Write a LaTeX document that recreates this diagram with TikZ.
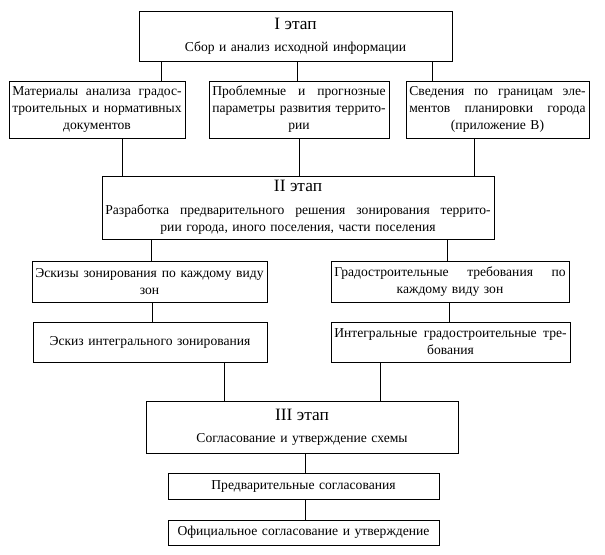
\documentclass[tikz,border=0pt]{standalone}
\usepackage{fontspec}
\setmainfont{Liberation Serif}
\tikzset{
  box/.style={draw, line width=0.6pt, inner xsep=2.5pt, inner ysep=0pt, align=center,
    font=\fontsize{10.2}{12.8}\selectfont},
  conn/.style={draw, line width=0.6pt},
}
\newcommand{\jl}[1]{\leavevmode\hbox to\linewidth{#1}}
\newcommand{\gap}{\hspace{0pt plus 1fill}}
\newcommand{\ttl}[1]{{\fontsize{13}{15}\selectfont #1}}
\begin{document}
\begin{tikzpicture}[x=0.75pt,y=-0.75pt]
\useasboundingbox (0,0) rectangle (605,555);
% stage I
\node[box, text width=229.75pt, minimum height=37.5pt] (I) at (295.5,36)
  {\ttl{I этап}\\[4pt] Сбор и анализ исходной информации};
\node[box, text width=127pt, minimum height=42.75pt] (A) at (97,109.5)
  {\jl{Материалы\gap{} анализа\gap{} градос-}\\ \jl{троительных\gap{} и\gap{} нормативных}\\ документов};
\node[box, text width=130pt, minimum height=42.75pt] (B) at (299,109.5)
  {\jl{Проблемные\gap{} и\gap{} прогнозные}\\ \jl{параметры\gap{} развития\gap{} террито-}\\ рии};
\node[box, text width=132.25pt, minimum height=42.75pt] (C) at (497.5,109.5)
  {\jl{Сведения\gap{} по\gap{} границам\gap{} эле-}\\ \jl{ментов\gap{} планировки\gap{} города}\\ (приложение В)};
% stage II
\node[box, text width=289pt, minimum height=47.25pt] (II) at (298,207.5)
  {\ttl{II этап}\\[4pt] \jl{Разработка\gap{} предварительного\gap{} решения\gap{} зонирования\gap{} террито-}\\ рии города, иного поселения, части поселения};
\node[box, text width=171.25pt, minimum height=30.75pt] (D) at (149.5,281.5)
  {\jl{Эскизы\gap{} зонирования\gap{} по\gap{} каждому\gap{} виду}\\ зон};
\node[box, text width=173.5pt, minimum height=30.75pt] (F) at (450,281.5)
  {\jl{Градостроительные\gap{} требования\gap{} по}\\ каждому виду зон};
\node[box, text width=170.5pt, minimum height=30pt] (E) at (150,342)
  {Эскиз интегрального зонирования};
\node[box, text width=174.25pt, minimum height=30pt] (G) at (450.5,342)
  {\jl{Интегральные\gap{} градостроительные\gap{} тре-}\\ бования};
% stage III
\node[box, text width=229pt, minimum height=39pt] (III) at (302,427)
  {\ttl{III этап}\\[4pt] Согласование и утверждение схемы};
\node[box, text width=198.25pt, minimum height=19.5pt] (P) at (303.5,486)
  {Предварительные согласования};
\node[box, text width=198.25pt, minimum height=18.75pt] (O) at (303.5,532.5)
  {Официальное согласование и утверждение};
% connectors
\draw[conn] (I.south -| 161,0) -- (A.north -| 161,0);
\draw[conn] (I.south -| 297,0) -- (B.north -| 297,0);
\draw[conn] (I.south -| 432,0) -- (C.north -| 432,0);
\draw[conn] (A.south -| 122,0) -- (II.north -| 122,0);
\draw[conn] (B.south -| 299,0) -- (II.north -| 299,0);
\draw[conn] (C.south -| 474,0) -- (II.north -| 474,0);
\draw[conn] (II.south -| 151,0) -- (D.north -| 151,0);
\draw[conn] (II.south -| 447,0) -- (F.north -| 447,0);
\draw[conn] (D.south -| 152,0) -- (E.north -| 152,0);
\draw[conn] (F.south -| 449,0) -- (G.north -| 449,0);
\draw[conn] (E.south -| 224,0) -- (III.north -| 224,0);
\draw[conn] (G.south -| 380,0) -- (III.north -| 380,0);
\draw[conn] (III.south -| 305,0) -- (P.north -| 305,0);
\draw[conn] (P.south -| 305,0) -- (O.north -| 305,0);
\end{tikzpicture}
\end{document}
